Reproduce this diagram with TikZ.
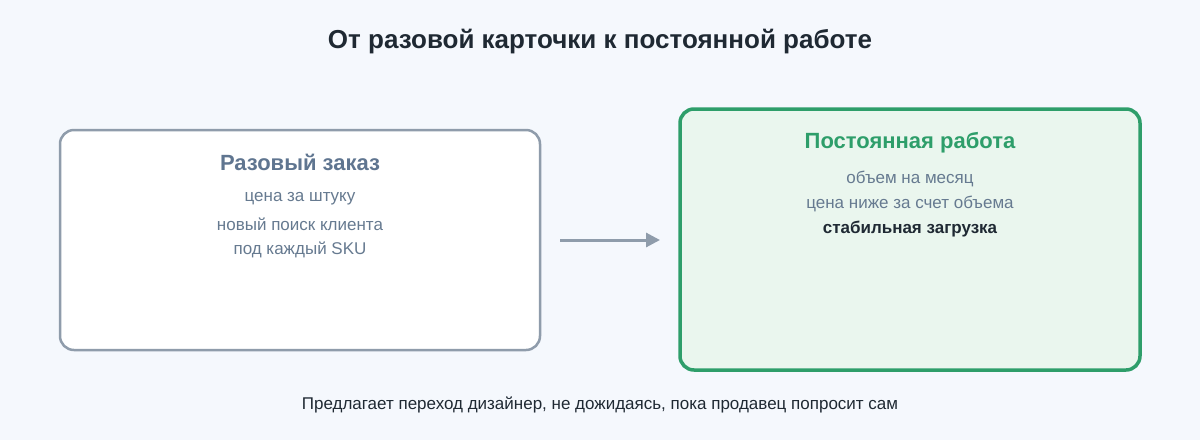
\documentclass[tikz,border=0pt]{standalone}
\usepackage{fontspec}
\setmainfont{Liberation Sans}
\usetikzlibrary{arrows.meta}
\definecolor{bg}{HTML}{F5F8FD}
\definecolor{graybox}{HTML}{8F9CAB}
\definecolor{grayt}{HTML}{5F7590}
\definecolor{grayl}{HTML}{667A90}
\definecolor{greenb}{HTML}{2E9E6A}
\definecolor{greenf}{HTML}{EAF6EE}
\definecolor{dark}{HTML}{1F2933}
\tikzset{
  box/.style={rounded corners=14pt},
  ttl/.style={font=\bfseries\fontsize{22}{26}\selectfont, anchor=center},
  ln/.style={font=\fontsize{17}{20}\selectfont, text=grayl, anchor=center},
}
\begin{document}
\begin{tikzpicture}[x=1pt,y=-1pt]
\fill[bg] (0,0) rectangle (1200,440);
\useasboundingbox (0,0) rectangle (1200,440);
\node[font=\bfseries\fontsize{26}{30}\selectfont, text=dark] (title) at (600,42) {От разовой карточки к постоянной работе};
\draw[box, draw=graybox, line width=2.5pt, fill=white] (60,130) rectangle (540,350);
\node[ttl, text=grayt] (lt) at (300,162) {Разовый заказ};
\node[ln] (l1) at (300,199) {цена за штуку};
\node[ln] (l2) at (300,224) {новый поиск клиента};
\node[ln] (l3) at (300,250) {под каждый SKU};
\draw[box, draw=greenb, line width=3.5pt, fill=greenf] (680,109) rectangle (1140,370);
\node[ttl, text=greenb] (rt) at (910,143) {Постоянная работа};
\node[ln] (r1) at (910,179) {объем на месяц};
\node[ln] (r2) at (910,204) {цена ниже за счет объема};
\node[ln, text=dark, font=\bfseries\fontsize{17}{20}\selectfont] (r3) at (910,229) {стабильная загрузка};
\coordinate (as) at (560,240);
\coordinate (ae) at (660,240);
\draw[graybox, line width=3pt, -{Triangle[length=14pt,width=14pt]}] (as) -- (ae);
\node[font=\fontsize{17}{20}\selectfont, text=dark] (foot) at (600,405) {Предлагает переход дизайнер, не дожидаясь, пока продавец попросит сам};
\end{tikzpicture}
\end{document}
